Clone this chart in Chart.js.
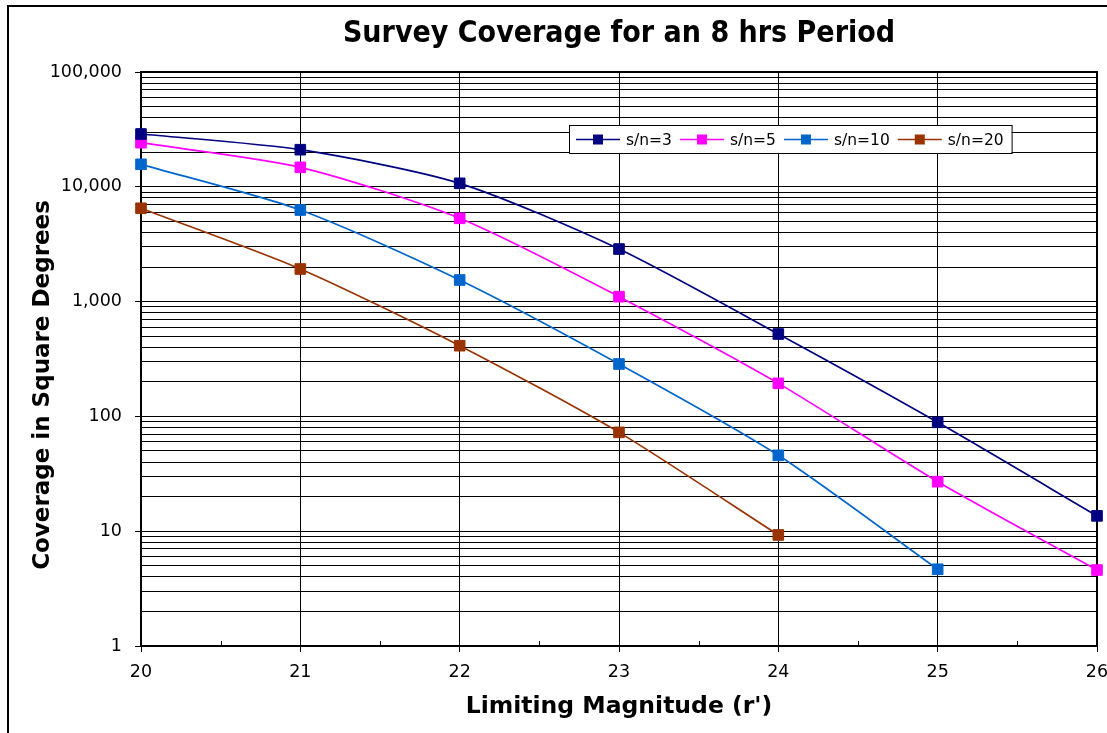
<!DOCTYPE html>
<html>
<head>
<meta charset="utf-8">
<title>Survey Coverage for an 8 hrs Period</title>
<script src="https://cdn.jsdelivr.net/npm/chart.js@4.4.1/dist/chart.umd.min.js"></script>
<style>
  html, body { margin: 0; padding: 0; background: #fff; }
  #wrap { position: relative; width: 1107px; height: 733px; }
</style>
</head>
<body>
<div id="wrap"><canvas id="coverage" width="1107" height="733"></canvas></div>
<script>
// limiting magnitude r' on the x axis
const magnitudes = [20, 21, 22, 23, 24, 25, 26];

// coverage in square degrees for each signal-to-noise cut
const sn3 = [28840, 21050, 10720, 2870, 522, 88.8, 13.6];
const sn5 = [24220, 14780, 5315, 1104, 194, 27.0, 4.59];
const sn10 = [15700, 6280, 1542, 286, 45.8, 4.66];
const sn20 = [6500, 1923, 413, 72.6, 9.27];

const seriesNames = ["s/n=3", "s/n=5", "s/n=10", "s/n=20"];
const seriesColors = ["#000080", "#FF00FF", "#0066CC", "#993300"];

// log axis: labelled decades, gridlines at every 1..9 step inside them
const decades = [1, 10, 100, 1000, 10000, 100000];
const decadeSteps = [1, 2, 3, 4, 5, 6, 7, 8, 9];

const FONT = "'DejaVu Sans', Verdana, sans-serif";

function toPoints(values) {
  return values.map((v, i) => ({ x: magnitudes[i], y: v }));
}

const datasets = [sn3, sn5, sn10, sn20].map((vals, i) => ({
  label: seriesNames[i],
  data: toPoints(vals),
  borderColor: seriesColors[i],
  backgroundColor: seriesColors[i],
  borderWidth: 1.7,
  pointStyle: "rect",
  pointRadius: 7.5,
  pointHoverRadius: 7.5,
  pointBorderWidth: 1,
  tension: 0.25,
  clip: false
}));

// plot frame, minor x ticks, titles and the boxed legend
const decorPlugin = {
  id: "decor",
  beforeDatasetsDraw(chart) {
    const { ctx, chartArea: a, scales } = chart;
    ctx.save();
    ctx.strokeStyle = "#000";
    ctx.lineWidth = 2;
    ctx.strokeRect(a.left, a.top, a.right - a.left, a.bottom - a.top);
    ctx.lineWidth = 1;
    for (let m = magnitudes[0]; m < magnitudes[magnitudes.length - 1]; m++) {
      const x = Math.round(scales.x.getPixelForValue(m + 0.5)) + 0.5;
      ctx.beginPath();
      ctx.moveTo(x, a.bottom);
      ctx.lineTo(x, a.bottom - 5);
      ctx.stroke();
    }
    ctx.restore();
  },
  afterDraw(chart) {
    const { ctx, chartArea: a } = chart;
    ctx.save();

    // outer frame of the figure
    ctx.strokeStyle = "#000";
    ctx.lineWidth = 2;
    ctx.strokeRect(8, 6, 1200, 1000);

    // main title, centred over the plot
    ctx.fillStyle = "#000";
    ctx.font = "bold 30px 'DejaVu Sans Condensed', " + FONT;
    ctx.textAlign = "center";
    ctx.textBaseline = "middle";
    ctx.fillText("Survey Coverage for an 8 hrs Period", (a.left + a.right) / 2, 34);

    // y axis title
    ctx.save();
    ctx.translate(43, 385);
    ctx.rotate(-Math.PI / 2);
    ctx.font = "bold 23px " + FONT;
    ctx.fillText("Coverage in Square Degrees", 0, 0);
    ctx.restore();

    // legend box inside the plot
    ctx.font = "15.5px " + FONT;
    ctx.textAlign = "left";
    const items = chart.data.datasets.map(ds => ({
      text: ds.label,
      color: ds.borderColor,
      w: ctx.measureText(ds.label).width
    }));
    const lx = a.left + 428, ly = a.top + 53, lh = 28;
    const lw = 7 + items.reduce((s, it) => s + 44 + 6 + it.w + 8, 0);
    ctx.fillStyle = "#fff";
    ctx.fillRect(lx, ly, lw, lh);
    ctx.lineWidth = 1;
    ctx.strokeStyle = "#000";
    ctx.strokeRect(lx + 0.5, ly + 0.5, lw, lh);
    let x = lx + 7;
    const cy = ly + lh / 2 + 0.5;
    items.forEach(it => {
      ctx.strokeStyle = it.color;
      ctx.lineWidth = 1.7;
      ctx.beginPath();
      ctx.moveTo(x, cy);
      ctx.lineTo(x + 44, cy);
      ctx.stroke();
      ctx.fillStyle = it.color;
      ctx.fillRect(x + 22 - 5, cy - 5, 10, 10);
      ctx.fillStyle = "#000";
      ctx.fillText(it.text, x + 50, cy + 1);
      x += 44 + 6 + it.w + 8;
    });

    ctx.restore();
  }
};

new Chart(document.getElementById("coverage"), {
  type: "line",
  data: { datasets },
  plugins: [decorPlugin],
  options: {
    responsive: false,
    animation: false,
    devicePixelRatio: 1,
    layout: { padding: { top: 72, right: 0, bottom: 0, left: 0 } },
    plugins: {
      legend: { display: false },
      title: { display: false },
      tooltip: { enabled: false }
    },
    scales: {
      x: {
        type: "linear",
        min: 20,
        max: 26,
        afterFit(scale) {
          scale.height = 87;
          scale.paddingRight = 10;
        },
        ticks: {
          stepSize: 1,
          color: "#000",
          padding: 10,
          font: { family: FONT, size: 17.5 }
        },
        grid: { color: "#000", lineWidth: 1, tickLength: 6, tickColor: "#000" },
        border: { display: true, color: "#000", width: 2 },
        title: {
          display: true,
          text: "Limiting Magnitude (r')",
          color: "#000",
          font: { family: FONT, size: 23.5, weight: "bold" },
          padding: { top: 0, bottom: 12 }
        }
      },
      y: {
        type: "logarithmic",
        min: 1,
        max: 100000,
        afterFit(scale) { scale.width = 141; },
        afterBuildTicks(scale) {
          const ticks = [];
          decades.forEach(d => {
            if (d === decades[decades.length - 1]) {
              ticks.push({ value: d, major: true });
              return;
            }
            decadeSteps.forEach(s => ticks.push({ value: s * d, major: s === 1 }));
          });
          scale.ticks = ticks;
        },
        ticks: {
          autoSkip: false,
          color: "#000",
          padding: 13,
          font: { family: FONT, size: 17.5 },
          callback: v => decades.includes(v) ? v.toLocaleString("en-US") : ""
        },
        grid: {
          color: "#000",
          lineWidth: 1,
          tickLength: 6,
          tickColor: c => (c.tick && c.tick.major) ? "#000" : "rgba(0,0,0,0)"
        },
        border: { display: true, color: "#000", width: 2 }
      }
    }
  }
});
</script>
</body>
</html>
